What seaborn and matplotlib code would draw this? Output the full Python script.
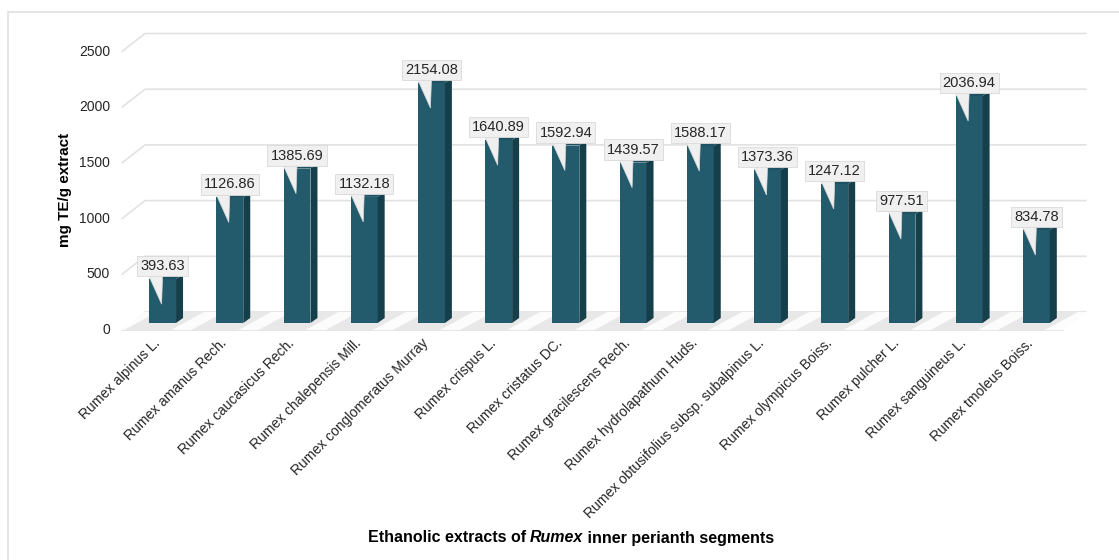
import numpy as np
import matplotlib
matplotlib.use("Agg")
import matplotlib.pyplot as plt
from matplotlib.patches import Polygon, Rectangle
from matplotlib.lines import Line2D
from matplotlib.transforms import IdentityTransform, offset_copy
import seaborn as sns

species = [
    "Rumex alpinus L.", "Rumex amanus Rech.", "Rumex caucasicus Rech.",
    "Rumex chalepensis Mill.", "Rumex conglomeratus Murray", "Rumex crispus L.",
    "Rumex cristatus DC.", "Rumex gracilescens Rech.", "Rumex hydrolapathum Huds.",
    "Rumex obtusifolius subsp. subalpinus L.", "Rumex olympicus Boiss.",
    "Rumex pulcher L.", "Rumex sanguineus L.", "Rumex tmoleus Boiss.",
]
te_values = [393.63, 1126.86, 1385.69, 1132.18, 2154.08, 1640.89, 1592.94,
             1439.57, 1588.17, 1373.36, 1247.12, 977.51, 2036.94, 834.78]
y_ticks = [0, 500, 1000, 1500, 2000, 2500]

W, H = 1119, 560
FRONT = "#235b6c"
SIDE = "#163f4c"
TOP = "#1e5262"
GRID = "#e2e2e2"
TXT = "#262626"

sns.set_theme(style="white")
plt.rcParams["font.family"] = ["Liberation Sans", "DejaVu Sans"]

fig = plt.figure(figsize=(W / 100, H / 100), dpi=100)
ax = fig.add_axes([131 / W, 1 - 323 / H, (1072 - 131) / W, (323 - 44.5) / H])

sns.barplot(x=species, y=te_values, color=FRONT, saturation=1, width=0.4,
            linewidth=0, ax=ax, zorder=3)
bars = [p for p in ax.patches if isinstance(p, Rectangle)]
ax.set_xlim(-0.47, 13.53)
ax.set_ylim(0, 2500)
ax.set_axis_off()

ident = IdentityTransform()


def disp(x, y):
    return ax.transData.transform((x, y))


# depth offsets in pixels (display, y up)
FRONT_OFF = np.array([-9.0, -7.0])
BACK_OFF = np.array([14.0, 11.0])
x0, x1 = ax.get_xlim()

# floor slab
fl = disp(x0, 0)
fr = disp(x1, 0)
floor = [fl + FRONT_OFF, fr + FRONT_OFF, fr + BACK_OFF, fl + BACK_OFF]
ax.add_patch(Polygon(floor, closed=True, transform=ident, fc="#e8e8e8",
                     ec="none", zorder=1, clip_on=False))
# light streaks on the floor between bars
for i in range(len(species) + 1):
    c = i - 0.5
    a = disp(c - 0.15, 0)
    b = disp(c + 0.15, 0)
    streak = [a + FRONT_OFF + [-6, 0], b + FRONT_OFF + [-6, 0],
              b + BACK_OFF + [4, 0], a + BACK_OFF + [4, 0]]
    ax.add_patch(Polygon(streak, closed=True, transform=ident, fc="white",
                         ec="none", alpha=0.9, zorder=1.2, clip_on=False))

# perspective gridlines and y labels
for v in y_ticks:
    l = disp(x0, v)
    r = disp(x1, v)
    pts = np.array([l + FRONT_OFF, l + BACK_OFF, r + BACK_OFF])
    if v == 0:
        pts = np.array([r + FRONT_OFF, l + FRONT_OFF, l + BACK_OFF, r + BACK_OFF])
    ax.add_line(Line2D(pts[:, 0], pts[:, 1], transform=ident, color=GRID,
                       lw=1.2, zorder=0.5, clip_on=False))
    lab = l + FRONT_OFF + [-12, 0]
    ax.text(lab[0], lab[1], f"{v}", transform=ident, ha="right", va="center",
            fontsize=10, color=TXT, clip_on=False)

# 3D sides and tops of the bars
DX, DY = 7.0, 5.0
for p in bars:
    bx0, bx1 = p.get_x(), p.get_x() + p.get_width()
    h = p.get_height()
    br = disp(bx1, 0)
    tl, tr = disp(bx0, h), disp(bx1, h)
    d = np.array([DX, DY])
    side = [br, br + d, tr + d, tr]
    top = [tl, tr, tr + d, tl + d]
    ax.add_patch(Polygon(side, closed=True, transform=ident, fc=SIDE, ec="none",
                         zorder=3.1, clip_on=False))
    ax.add_patch(Polygon(top, closed=True, transform=ident, fc=TOP, ec="none",
                         zorder=3.1, clip_on=False))

# value callouts
for i, v in enumerate(te_values):
    t = disp(i, v)
    cx = t[0]
    tail = [(cx - 14, t[1] + 4), (cx + 0, t[1] + 4), (cx - 1, t[1] - 25)]
    ax.add_patch(Polygon(tail, closed=True, transform=ident, fc="#efefef",
                         ec="#dcdcdc", lw=0.5, zorder=4, clip_on=False))
    ax.text(cx, t[1] + 6, f"{v:.2f}", transform=ident, ha="center",
            va="bottom", fontsize=10.5, color=TXT, zorder=5, clip_on=False,
            bbox=dict(boxstyle="square,pad=0.22", fc="#f0f0f0", ec="#dadada",
                      lw=0.6))

# category labels
lab_tr = offset_copy(ax.transData, fig, x=-10, y=-13, units="dots")
for i, s in enumerate(species):
    ax.text(i, 0, s, transform=lab_tr, rotation=45, rotation_mode="anchor",
            ha="right", va="top", fontsize=10, color=TXT, clip_on=False)

# axis titles
fig.text(65 / W, 1 - 190 / H, "mg TE/g extract", rotation=90, ha="center",
         va="center", fontsize=11, fontweight="bold", color="black")

parts = [("Ethanolic extracts of ", "normal"), ("Rumex", "italic"),
         (" inner perianth segments", "normal")]
renderer = fig.canvas.get_renderer()
texts = []
total = 0.0
for s, style in parts:
    t = fig.text(0, 1 - 538 / H, s, fontsize=11.5, fontweight="bold",
                 fontstyle=style, ha="left", va="center", color="black")
    w = t.get_window_extent(renderer).width
    texts.append((t, w))
    total += w
xpos = 571 - total / 2
for t, w in texts:
    t.set_x(xpos / W)
    xpos += w

# outer frame
fig.add_artist(Line2D([8 / W, 8 / W], [0, 1 - 12 / H], transform=fig.transFigure,
                      color="#e0e0e0", lw=1.2))
fig.add_artist(Line2D([8 / W, 1], [1 - 12 / H, 1 - 12 / H],
                      transform=fig.transFigure, color="#e0e0e0", lw=1.2))

fig.savefig("out.png", dpi=100)
